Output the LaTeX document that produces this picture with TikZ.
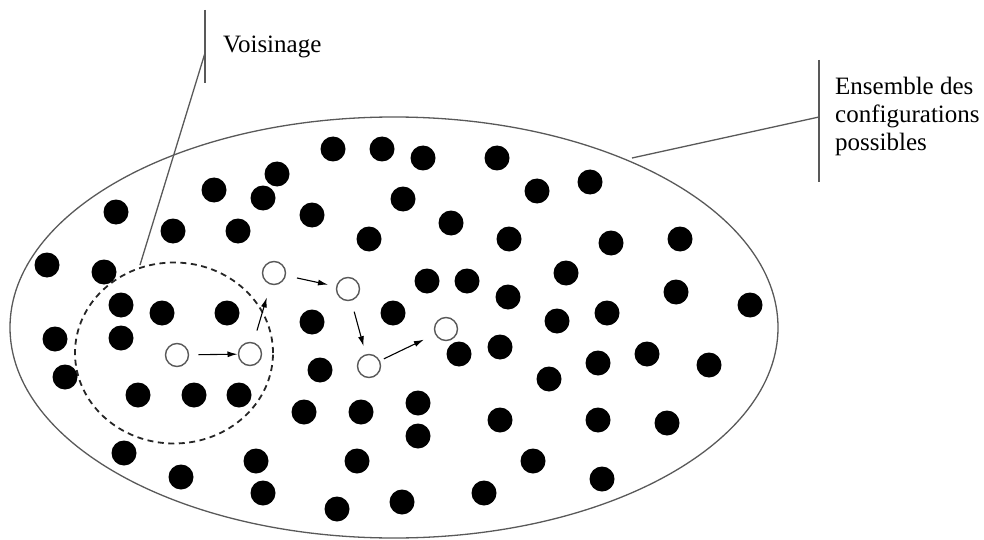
\documentclass[tikz,border=0pt]{standalone}
\usepackage{fontspec}
\setmainfont{Liberation Serif}
\usetikzlibrary{arrows.meta,shapes.geometric}
\tikzset{
  bdot/.style={circle,fill=black,inner sep=0pt,outer sep=0pt,minimum size=25pt},
  odot/.style={circle,draw=black!65,line width=1.4pt,fill=white,inner sep=0pt,outer sep=0pt,minimum size=23pt},
  mv/.style={line width=1.1pt,-{Latex[length=10pt,width=6pt]}},
  lead/.style={draw=black!65,line width=1.3pt},
  lbl/.style={font=\fontsize{25}{28}\selectfont,inner sep=0pt,align=left}
}
\begin{document}
\begin{tikzpicture}[x=1pt,y=-1pt]
\useasboundingbox (0,0) rectangle (984,540);
% space of configurations
\node[draw=black!65,line width=1.3pt,ellipse,inner sep=0pt,outer sep=0pt,
      minimum width=768pt,minimum height=421pt] (E) at (394,327.5) {};
% neighbourhood
\node[draw=black!85,line width=1.8pt,dash pattern=on 6pt off 4.5pt,ellipse,inner sep=0pt,outer sep=0pt,
      minimum width=198pt,minimum height=181pt] (N) at (174,353) {};
% black dots
\foreach \x/\y [count=\i] in {
 333/149,382/149,423/158,497/158,277/174,590/182,537/191,214/190,263/198,403/199,
 116/212,312/215,173/231,238/231,451/223,369/239,509/239,611/243,680/239,
 47/265,104/272,566/273,427/281,467/281,676/292,508/297,750/305,121/305,162/313,
 227/313,393/313,312/322,557/321,607/313,55/339,121/338,459/354,500/347,598/363,
 647/354,709/365,320/370,65/377,549/379,
 138/395,194/395,239/395,304/412,361/412,418/403,598/420,667/423,418/436,500/420,
 124/453,256/461,357/461,533/461,181/477,263/493,402/502,484/493,602/479,337/509}
 \node[bdot] (b\i) at (\x,\y) {};
% path of open circles
\node[odot] (o1) at (177,355) {};
\node[odot] (o2) at (250,354) {};
\node[odot] (o3) at (274,273) {};
\node[odot] (o4) at (348,289) {};
\node[odot] (o5) at (369,366) {};
\node[odot] (o6) at (446,329) {};
\draw[mv,shorten <=10pt,shorten >=1pt] (o1) -- (o2);
\draw[mv,shorten <=13pt,shorten >=14pt] (o2) -- (o3);
\draw[mv,shorten <=12pt,shorten >=9pt] (o3) -- (o4);
\draw[mv,shorten <=12pt,shorten >=9pt] (o4) -- (o5);
\draw[mv,shorten <=5pt,shorten >=13pt] (o5) -- (o6);
% labels
\coordinate (vt) at (205,10);
\coordinate (vb) at (205,83);
\coordinate (vm) at (205,53);
\coordinate (ne) at (140,265);
\node[lbl,anchor=base west] (lv) at (223,53) {Voisinage};
\draw[lead] (vt) -- (vb);
\draw[lead] (vm) -- (ne);
\coordinate (et) at (819,60);
\coordinate (eb) at (819,182);
\coordinate (em) at (819,117);
\coordinate (ee) at (632,158);
\node[lbl,anchor=north west] (le) at (835,77) {Ensemble des\\configurations\\possibles};
\draw[lead] (et) -- (eb);
\draw[lead] (em) -- (ee);
\end{tikzpicture}
\end{document}
